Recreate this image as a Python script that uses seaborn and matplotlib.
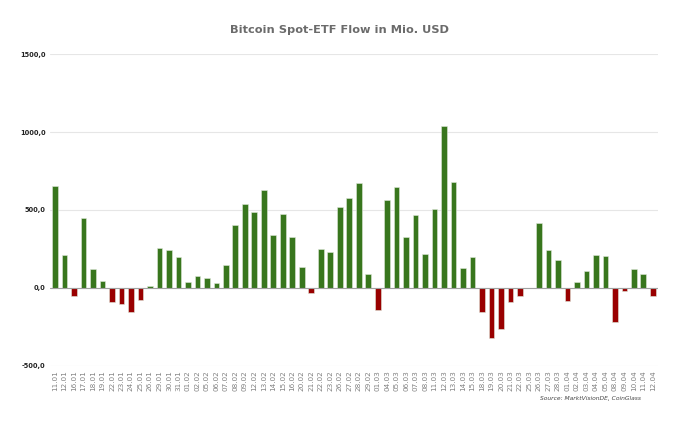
import matplotlib
matplotlib.use("Agg")
import matplotlib.pyplot as plt
import seaborn as sns
import pandas as pd
from matplotlib.ticker import FuncFormatter, FixedLocator

dates = ["11.01", "12.01", "16.01", "17.01", "18.01", "19.01", "22.01", "23.01", "24.01", "25.01",
         "26.01", "29.01", "30.01", "31.01", "01.02", "02.02", "05.02", "06.02", "07.02", "08.02",
         "09.02", "12.02", "13.02", "14.02", "15.02", "16.02", "20.02", "21.02", "22.02", "23.02",
         "26.02", "27.02", "28.02", "29.02", "01.03", "04.03", "05.03", "06.03", "07.03", "08.03",
         "11.03", "12.03", "13.03", "14.03", "15.03", "18.03", "19.03", "20.03", "21.03", "22.03",
         "25.03", "26.03", "27.03", "28.03", "01.04", "02.04", "03.04", "04.04", "05.04", "08.04",
         "09.04", "10.04", "11.04", "12.04"]
flows = [655, 214, -49, 451, 124, 43, -88, -105, -156, -77,
         13, 256, 246, 197, 36, 79, 66, 32, 145, 402,
         539, 489, 628, 340, 477, 329, 132, -32, 248, 231,
         517, 575, 671, 92, -139, 562, 645, 329, 470, 220,
         504, 1041, 682, 130, 197, -152, -323, -263, -92, -49,
         0, 415, 241, 182, -83, 38, 111, 209, 203, -220,
         -17, 122, 90, -53]
yticks = [-500, 0, 500, 1000, 1500]

df = pd.DataFrame({"date": dates, "flow": flows})
df["sign"] = ["pos" if v >= 0 else "neg" for v in flows]

sns.set_style("white")
fig = plt.figure(figsize=(6.8, 4.23), dpi=100)
ax = fig.add_axes([0.074, 0.1348, 0.893, 0.7375])

sns.barplot(data=df, x="date", y="flow", hue="sign",
            palette={"pos": "#38761d", "neg": "#990000"}, saturation=1,
            dodge=False, legend=False, width=0.6,
            edgecolor="#dfe8da", linewidth=0.4, ax=ax, zorder=3)

ax.set_ylim(-500, 1500)
ax.set_xlim(-0.5, len(dates) - 0.5)
ax.yaxis.set_major_locator(FixedLocator(yticks))
ax.yaxis.set_major_formatter(FuncFormatter(lambda v, p: f"{v:.1f}".replace(".", ",")))
ax.grid(axis="y", color="#e6e6e6", linewidth=0.8, zorder=0)
ax.axhline(0, color="#a0a0a0", linewidth=0.8, zorder=4)
for s in ax.spines.values():
    s.set_visible(False)
ax.set_xlabel("")
ax.set_ylabel("")
ax.tick_params(axis="y", length=0, pad=3.5, labelsize=4.8, labelcolor="#222222")
for t in ax.get_yticklabels():
    t.set_fontweight("bold")
ax.tick_params(axis="x", length=0, pad=3, labelsize=5.2, labelcolor="#808080", rotation=90)

fig.text(0.5, 0.929, "Bitcoin Spot-ETF Flow in Mio. USD", ha="center", va="center",
         fontsize=8.2, fontweight="bold", color="#6b6b6b")
fig.text(0.868, 0.058, "Source: MarktVisionDE, CoinGlass", ha="center", va="center",
         fontsize=4.3, style="italic", color="#444444")

fig.savefig("out.png", dpi=100)
